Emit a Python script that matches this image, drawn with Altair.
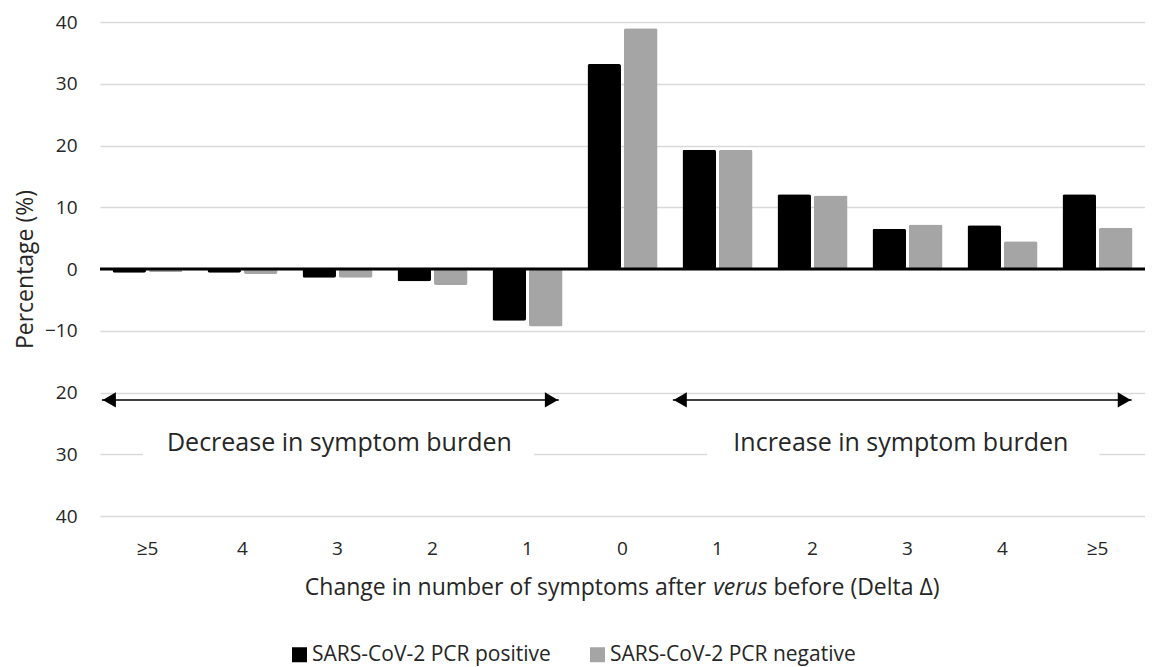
import json
import altair as alt
import pandas as pd

FONT = "Open Sans"
TEXT = "#262626"

# ---- chart values ----
deltas = [-5, -4, -3, -2, -1, 0, 1, 2, 3, 4, 5]
tick_labels = ["≥5", "4", "3", "2", "1", "0", "1", "2", "3", "4", "≥5"]
pcr_positive = [-0.6, -0.6, -1.4, -2.0, -8.4, 33.2, 19.3, 12.1, 6.5, 7.1, 12.1]
pcr_negative = [-0.5, -0.8, -1.4, -2.6, -9.3, 39.0, 19.3, 11.9, 7.2, 4.5, 6.7]
series = ["SARS-CoV-2 PCR positive", "SARS-CoV-2 PCR negative"]
series_colors = ["#000000", "#a5a5a5"]
y_ticks = [-40, -30, -20, -10, 0, 10, 20, 30, 40]

rows = []
for i, d in enumerate(deltas):
    rows.append({"delta": d, "group": series[0], "value": pcr_positive[i]})
    rows.append({"delta": d, "group": series[1], "value": pcr_negative[i]})
bars_df = pd.DataFrame(rows)

x_label_expr = json.dumps(tick_labels, ensure_ascii=False) + "[datum.value + 5]"

bars = alt.Chart(bars_df).mark_bar(cornerRadius=2).encode(
    x=alt.X(
        "delta:O",
        scale=alt.Scale(paddingInner=0.263, paddingOuter=0.1316),
        axis=alt.Axis(
            title=None, labelExpr=x_label_expr, labelAngle=0, ticks=False,
            domain=False, labelFontSize=19, labelFont=FONT, labelColor=TEXT,
            labelPadding=23, grid=False,
        ),
    ),
    xOffset=alt.XOffset("group:N", sort=series, scale=alt.Scale(paddingInner=0.082)),
    y=alt.Y(
        "value:Q",
        scale=alt.Scale(domain=[-40, 40], nice=False),
        axis=alt.Axis(
            values=y_ticks, title="Percentage (%)", ticks=False, domain=False,
            labelExpr="datum.value < -10 ? format(abs(datum.value), 'd') : datum.label",
            labelFontSize=19, labelFont=FONT, labelColor=TEXT, labelPadding=23,
            titleFontSize=23, titleFont=FONT, titleColor=TEXT, titleFontWeight="normal",
            titlePadding=7, gridColor="#d9d9d9", gridWidth=1.5,
        ),
    ),
    color=alt.Color(
        "group:N", sort=series,
        scale=alt.Scale(domain=series, range=series_colors),
        legend=alt.Legend(
            title=None, orient="none", legendX=189, legendY=622,
            direction="horizontal", symbolType="square", symbolSize=225,
            symbolStrokeWidth=0, labelFontSize=21, labelFont=FONT,
            labelColor=TEXT, columnPadding=36, padding=0, labelOffset=2,
            labelLimit=400,
        ),
    ),
)

zero_line = alt.Chart(pd.DataFrame({"v": [0]})).mark_rule(
    color="#000000", strokeWidth=3
).encode(y="v:Q")

# ---- annotation layer (independent x scale in band units 0..11) ----
ox = alt.Scale(domain=[0, 11], nice=False, zero=False)

boxes = pd.DataFrame({"x": [0.45, 6.39], "x2": [4.57, 10.52],
                      "y": [-26.0, -26.0], "y2": [-31.2, -31.2]})
box_layer = alt.Chart(boxes).mark_rect(color="white").encode(
    x=alt.X("x:Q", scale=ox, axis=None), x2="x2:Q", y="y:Q", y2="y2:Q"
)

notes = pd.DataFrame({"x": [2.52, 8.43], "y": [-28.2, -28.2],
                      "t": ["Decrease in symptom burden", "Increase in symptom burden"]})
note_layer = alt.Chart(notes).mark_text(
    font=FONT, fontSize=25, color=TEXT, baseline="middle", align="center"
).encode(x=alt.X("x:Q", scale=ox, axis=None), y="y:Q", text="t:N")

arrows = pd.DataFrame({"x": [0.02, 6.03], "x2": [4.83, 10.86], "y": [-21.2, -21.2]})
arrow_lines = alt.Chart(arrows).mark_rule(color="#404040", strokeWidth=2).encode(
    x=alt.X("x:Q", scale=ox, axis=None), x2="x2:Q", y="y:Q"
)
heads = pd.DataFrame({
    "x": [0.02 + 0.078, 4.83 - 0.078, 6.03 + 0.078, 10.86 - 0.078],
    "y": [-21.2] * 4,
    "shape": ["triangle-left", "triangle-right", "triangle-left", "triangle-right"],
})
head_layer = alt.Chart(heads).mark_point(filled=True, size=230, opacity=1, color="#000000").encode(
    x=alt.X("x:Q", scale=ox, axis=None), y="y:Q",
    shape=alt.Shape("shape:N", scale=None, legend=None),
)

xt = pd.DataFrame({"x": [6.38, 6.74, 7.09], "y": [-51.6] * 3,
                   "t": ["Change in number of symptoms after", "verus", "before (Delta Δ)"]})
xt_left = alt.Chart(xt.iloc[[0]]).mark_text(
    font=FONT, fontSize=23, color=TEXT, align="right", baseline="middle"
).encode(x=alt.X("x:Q", scale=ox, axis=None), y="y:Q", text="t:N")
xt_mid = alt.Chart(xt.iloc[[1]]).mark_text(
    font=FONT, fontSize=23, color=TEXT, align="center", baseline="middle", fontStyle="italic"
).encode(x=alt.X("x:Q", scale=ox, axis=None), y="y:Q", text="t:N")
xt_right = alt.Chart(xt.iloc[[2]]).mark_text(
    font=FONT, fontSize=23, color=TEXT, align="left", baseline="middle"
).encode(x=alt.X("x:Q", scale=ox, axis=None), y="y:Q", text="t:N")

overlay = alt.layer(box_layer, note_layer, arrow_lines, head_layer,
                    xt_left, xt_mid, xt_right)

chart = alt.layer(bars, zero_line, overlay).resolve_scale(
    x="independent"
).properties(
    width=1045, height=494,
    autosize=alt.AutoSizeParams(type="none"),
    padding={"left": 92, "top": 14, "right": 0, "bottom": 151},
).configure_view(stroke=None)

chart.save("out.html", embed_options={"renderer": "svg", "actions": False})
